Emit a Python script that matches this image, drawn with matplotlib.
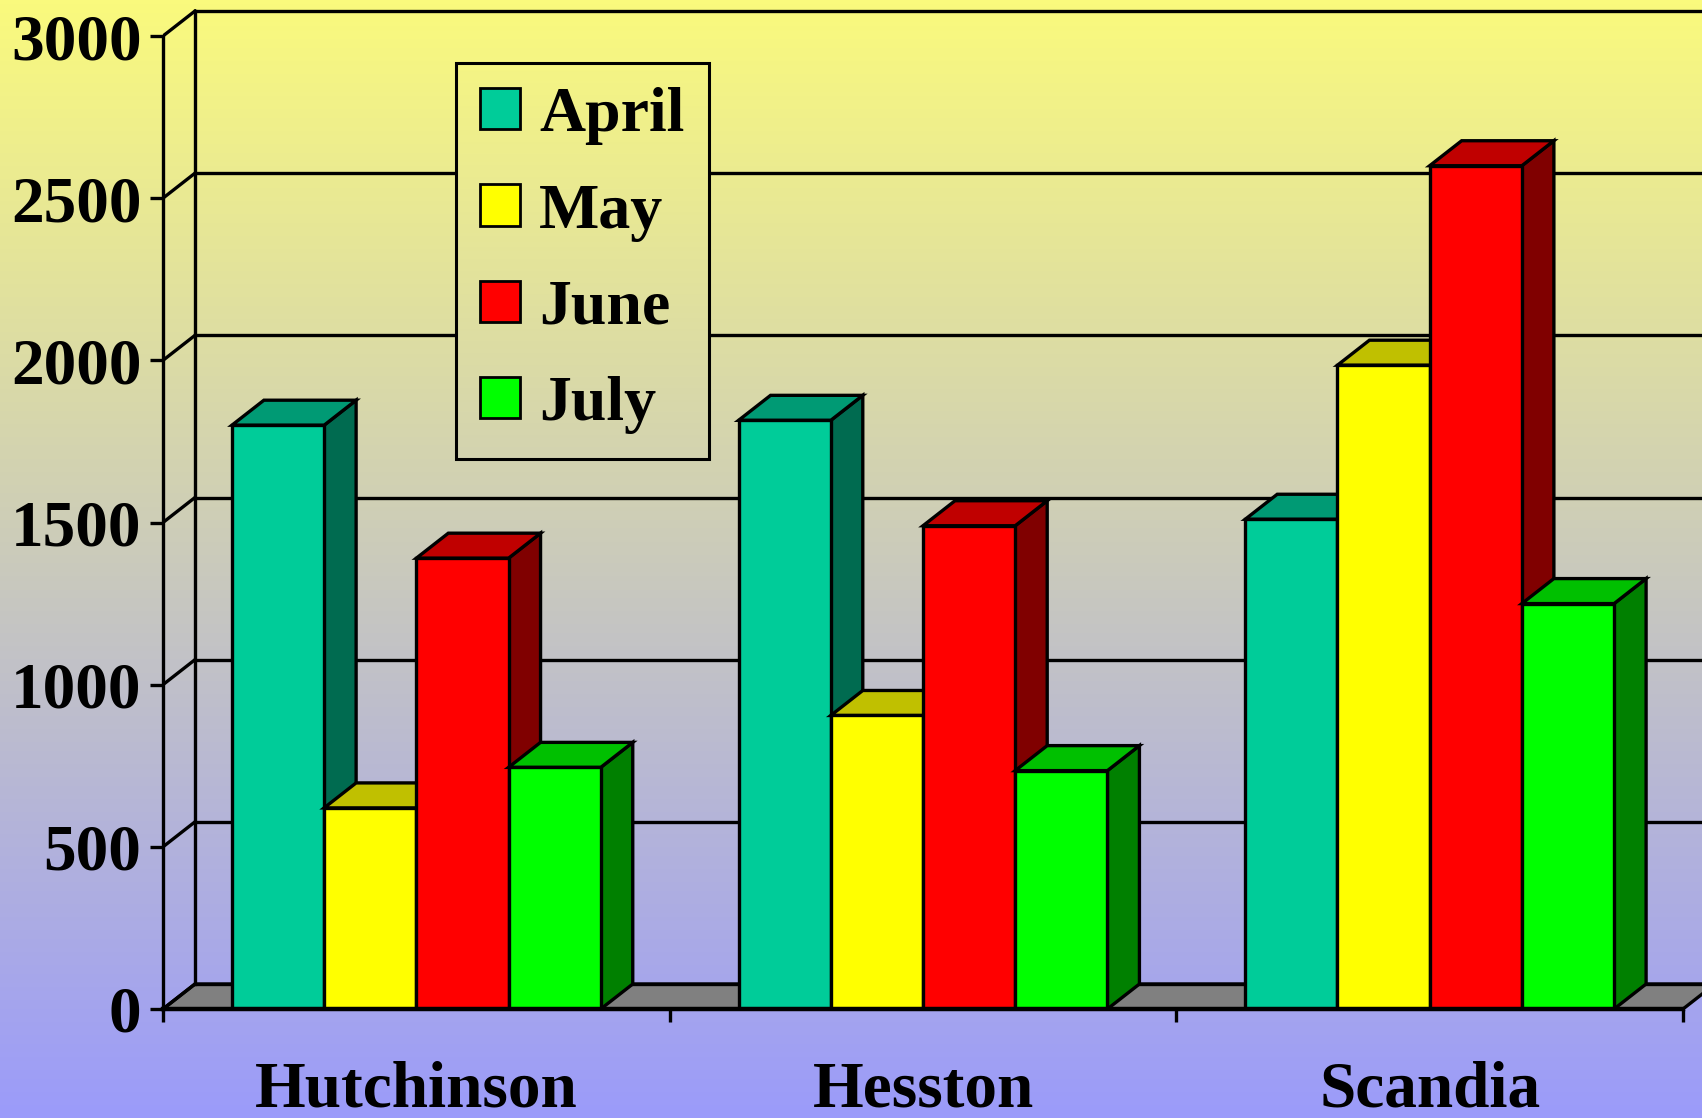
import numpy as np
import matplotlib
matplotlib.use("Agg")
import matplotlib.pyplot as plt
from matplotlib.patches import Polygon, Patch

plt.rcParams["font.family"] = ["Liberation Serif", "DejaVu Serif"]
plt.rcParams["font.weight"] = "bold"

# ---- data ----
towns  = ["Hutchinson", "Hesston", "Scandia"]
months = ["April", "May", "June", "July"]
april  = [1800, 1815, 1510]
may    = [ 620,  905, 1985]
june   = [1390, 1490, 2600]
july   = [ 745,  735, 1250]
series = [april, may, june, july]
yticks = [0, 500, 1000, 1500, 2000, 2500, 3000]

face  = ["#00CC99", "#FFFF00", "#FF0000", "#00FF00"]
top   = ["#009A74", "#C0C000", "#C00000", "#00C000"]
side  = ["#006B50", "#808000", "#800000", "#008000"]

W, H = 1702, 1118
fig = plt.figure(figsize=(W / 100, H / 100), dpi=100)

c_top = np.array([250, 250, 125]) / 255
c_bot = np.array([155, 155, 250]) / 255


def gradient(f_lo, f_hi):
    # vertical gradient between figure fractions f_lo (bottom) and f_hi (top)
    t = 1 - np.linspace(f_hi, f_lo, 256)[:, None, None]
    g = (1 - t) * c_top + t * c_bot
    return np.repeat(g, 2, axis=1)


# background gradient yellow -> periwinkle
bg = fig.add_axes([0, 0, 1, 1], zorder=-10)
bg.imshow(gradient(0, 1), aspect="auto", extent=[0, 1, 0, 1])
bg.set_axis_off()

# main axes: front plane 0..3000 maps to y px 1009..36, x -0.5..2.5 -> px 163..1683
x0px, x1px = 163, 1683
y0px, y3000 = 1009, 36
px_x = (x1px - x0px) / 3.0
px_y = (y0px - y3000) / 3000.0
dx = 32 / px_x          # depth offset in data units
dy = 25 / px_y
xmax = 2.5 + (W - x1px) / px_x
ymax = 3000 + dy + 2 / px_y
ax = fig.add_axes([x0px / W, (H - y0px) / H, (W - x0px) / W,
                   (ymax * px_y) / H])
ax.set_xlim(-0.5, xmax)
ax.set_ylim(0, ymax)
ax.patch.set_alpha(0)

lw = 2.4
# floor
ax.add_patch(Polygon([(-0.5, 0), (2.5, 0), (2.5 + dx, dy), (-0.5 + dx, dy)],
                     closed=True, facecolor="#808080", edgecolor="black",
                     lw=lw, zorder=1))
# back wall gridlines + side wall diagonals
for v in yticks:
    ax.plot([-0.5 + dx, xmax], [v + dy, v + dy], color="black", lw=lw, zorder=1)
    ax.plot([-0.5, -0.5 + dx], [v, v + dy], color="black", lw=lw, zorder=1)
ax.plot([-0.5 + dx, -0.5 + dx], [dy, 3000 + dy], color="black", lw=lw, zorder=1)

# bars: side, top, then front face, left to right
w = 0.182
xs = np.arange(len(towns))
for j, vals in enumerate(series):
    xpos = xs + (j - 1.5) * w
    ax.bar(xpos, vals, w, color=face[j], edgecolor="black",
           linewidth=lw, zorder=3 + 3 * j + 2, label=months[j])
    for xc, v in zip(xpos, vals):
        l, r = xc - w / 2, xc + w / 2
        ax.add_patch(Polygon([(r, 0), (r, v), (r + dx, v + dy), (r + dx, dy)],
                             facecolor=side[j], edgecolor="black", lw=lw,
                             joinstyle="miter", zorder=3 + 3 * j))
        ax.add_patch(Polygon([(l, v), (r, v), (r + dx, v + dy), (l + dx, v + dy)],
                             facecolor=top[j], edgecolor="black", lw=lw,
                             joinstyle="miter", zorder=3 + 3 * j + 1))

# axes styling
for s in ["top", "right"]:
    ax.spines[s].set_visible(False)
ax.spines["left"].set_bounds(0, 3000)
ax.spines["bottom"].set_bounds(-0.5, 2.5)
ax.spines["left"].set_linewidth(lw)
ax.spines["bottom"].set_linewidth(3.2)
ax.spines["bottom"].set_zorder(20)

ax.set_yticks(yticks)
ax.set_yticklabels([str(v) for v in yticks])
ax.tick_params(axis="y", length=9.5, width=lw, pad=6, labelsize=47)
ax.set_xticks([-0.5, 0.5, 1.5, 2.5])
ax.set_xticklabels([])
ax.set_xticks(xs, minor=True)
ax.set_xticklabels(towns, minor=True)
ax.tick_params(axis="x", which="major", length=9, width=lw)
ax.tick_params(axis="x", which="minor", length=0, pad=37, labelsize=47)
for lab in ax.get_xticklabels(minor=True) + ax.get_yticklabels():
    lab.set_fontweight("bold")

handles = [Patch(facecolor=face[j], edgecolor="black", lw=2, label=months[j])
           for j in range(4)]
leg = fig.legend(handles=handles, loc="upper left",
                 bbox_to_anchor=(456 / W, 1 - 63 / H),
                 prop={"size": 46, "weight": "bold"},
                 frameon=True, fancybox=False,
                 edgecolor="black", handlelength=0.62, handleheight=0.62,
                 handletextpad=0.3, labelspacing=0.6, borderpad=0.38,
                 borderaxespad=0)
frame = leg.get_frame()
frame.set_facecolor("none")
frame.set_alpha(None)
frame.set_linewidth(2.2)
frame.set_edgecolor("black")
leg.set_zorder(30)

# legend box is filled with the same gradient (hides gridlines behind it)
fig.canvas.draw()
bb = leg.get_window_extent().transformed(fig.transFigure.inverted())
lbg = fig.add_axes([bb.x0, bb.y0, bb.width, bb.height], zorder=25)
lbg.imshow(gradient(bb.y0, bb.y1), aspect="auto", extent=[0, 1, 0, 1])
lbg.set_axis_off()

fig.savefig("out.png", dpi=100)
